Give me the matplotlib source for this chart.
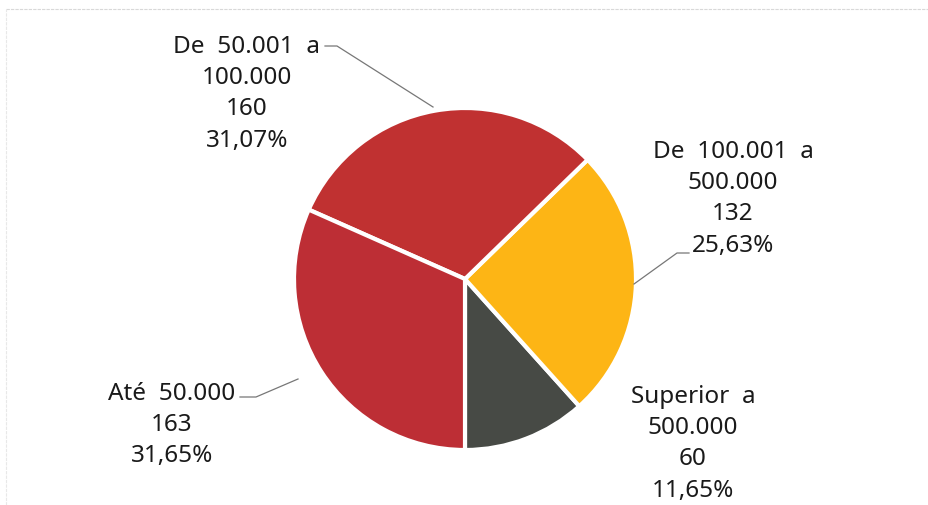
import matplotlib.pyplot as plt

# dados
categorias = ["Superior  a\n500.000", "De  100.001  a\n500.000",
              "De  50.001  a\n100.000", "Até  50.000"]
valores = [60, 132, 160, 163]
percentuais = ["11,65%", "25,63%", "31,07%", "31,65%"]
cores = ["#474a45", "#fdb515", "#c03131", "#bd2e35"]

W, H = 929, 506
fig = plt.figure(figsize=(W / 100, H / 100), dpi=100)
ax = fig.add_axes([0, 0, 1, 1])
ax.set_xlim(0, W)
ax.set_ylim(0, H)
ax.set_aspect("equal")
ax.axis("off")

# pizza (centro em coordenadas de pixel, y de baixo para cima)
ax.pie(valores, colors=cores, startangle=270, counterclock=True,
       center=(465, H - 280), radius=171,
       wedgeprops=dict(edgecolor="white", linewidth=3))
ax.set_xlim(0, W)
ax.set_ylim(0, H)

# moldura clara
ax.plot([6, W], [H - 10, H - 10], color="#d8d8d8", lw=0.8, ls=(0, (3, 1)))
ax.plot([6, 6], [0, H - 10], color="#e8e8e8", lw=0.8, ls=(0, (3, 1)))

# rótulos
pos = [(693, 385), (733, 140), (247, 35), (172, 382)]
for cat, v, p, (x, y) in zip(categorias, valores, percentuais, pos):
    txt = f"{cat}\n{v}\n{p}"
    ax.text(x, H - y, txt, ha="center", va="top", fontsize=17.5,
            color="#1a1a1a", linespacing=1.40, family="Noto Sans")

# linhas de chamada
cl = "#777777"
ax.plot([325, 337, 433], [H - 47, H - 47, H - 108], color=cl, lw=0.9)
ax.plot([689, 677, 634], [H - 254, H - 254, H - 285], color=cl, lw=0.9)
ax.plot([240, 256, 298], [H - 398, H - 398, H - 380], color=cl, lw=0.9)

fig.savefig("out.png", dpi=100)
